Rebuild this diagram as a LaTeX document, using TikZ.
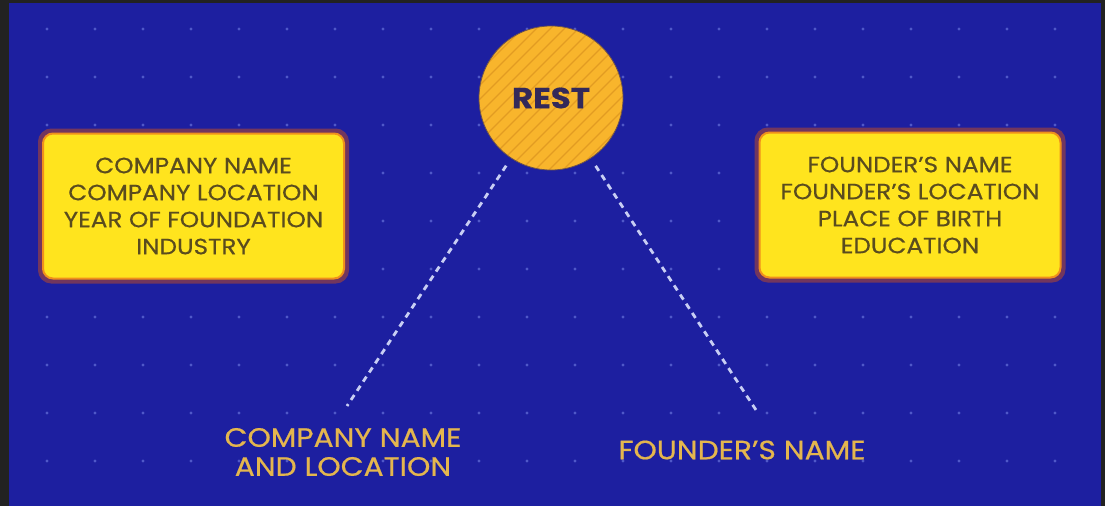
\documentclass[tikz,border=0pt]{standalone}
\usepackage{fontspec}
\setmainfont{Poppins}[FakeStretch=1.12, FakeBold=0.6]
\usetikzlibrary{positioning}

\definecolor{frame}{HTML}{222222}
\definecolor{board}{HTML}{1D1FA0}
\definecolor{griddot}{HTML}{5058C8}
\definecolor{cardfill}{HTML}{FFE41E}
\definecolor{cardedge}{HTML}{F0901C}
\definecolor{cardglow}{HTML}{C84E1E}
\definecolor{cardtext}{HTML}{5A4C1E}
\definecolor{restfill}{HTML}{F8B52C}
\definecolor{resthatch}{HTML}{E29C22}
\definecolor{resttext}{HTML}{33295A}
\definecolor{labeltext}{HTML}{E4B64E}
\definecolor{dashline}{HTML}{C8CEF4}

\tikzset{
  card/.style={rectangle, rounded corners=10pt, fill=cardfill, draw=cardedge,
    line width=2pt, minimum width=301pt, minimum height=145pt, align=center,
    text=cardtext, font=\fontsize{22}{27}\selectfont},
  glow/.style={draw=cardglow, draw opacity=0.5, line width=7pt, fill=none},
  bottomlabel/.style={text=labeltext, align=center, font=\fontsize{26.5}{29}\selectfont},
  link/.style={draw=dashline, line width=2.8pt, dash pattern=on 6pt off 5pt, shorten <=9pt}
}

\begin{document}
\begin{tikzpicture}[x=1pt, y=-1pt]
    \useasboundingbox (0,0) rectangle (1105,506);
    \fill[frame] (0,0) rectangle (1105,506);
    \fill[board] (9,3) rectangle (1101,506);

    % dot grid
    \begin{scope}
        \clip (9,3) rectangle (1101,506);
        \foreach \i in {0,...,22}
            \foreach \j in {0,...,10}
                \fill[griddot] (47+48*\i, 29+48*\j) circle (1.7pt);
    \end{scope}

    % the two cards
    \node[card, glow, minimum width=304pt, minimum height=148pt] at (193.5,206) {};
    \node[card] (compbox) at (193.5,206) {COMPANY NAME\\COMPANY LOCATION\\YEAR OF FOUNDATION\\INDUSTRY};
    \node[card, glow, minimum width=304pt, minimum height=148pt] at (910,205) {};
    \node[card] (foundbox) at (910,205) {FOUNDER'S NAME\\FOUNDER'S LOCATION\\PLACE OF BIRTH\\EDUCATION};

    % centre circle
    \node[circle, minimum size=144pt, fill=restfill] (rest) at (551,98) {};
    \begin{scope}
        \clip (rest) circle (72pt);
        \foreach \k in {-12,...,12}
            \draw[resthatch, line width=1.3pt] (551+14*\k-80, 178) -- (551+14*\k+80, 18);
    \end{scope}
    \draw[resttext!70!restfill, line width=0.8pt] (rest) circle (72pt);
    \node[text=resttext, font=\fontsize{29}{32}\selectfont\bfseries] at (rest) {REST};

    % labels below
    \node[bottomlabel] (complabel) at (343,452) {COMPANY NAME\\AND LOCATION};
    \node[bottomlabel] (foundlabel) at (742,450) {FOUNDER'S NAME};

    \coordinate (compend) at (347,406);
    \coordinate (foundend) at (756,410);
    \draw[link] (rest) -- (compend);
    \draw[link] (rest) -- (foundend);
\end{tikzpicture}
\end{document}
